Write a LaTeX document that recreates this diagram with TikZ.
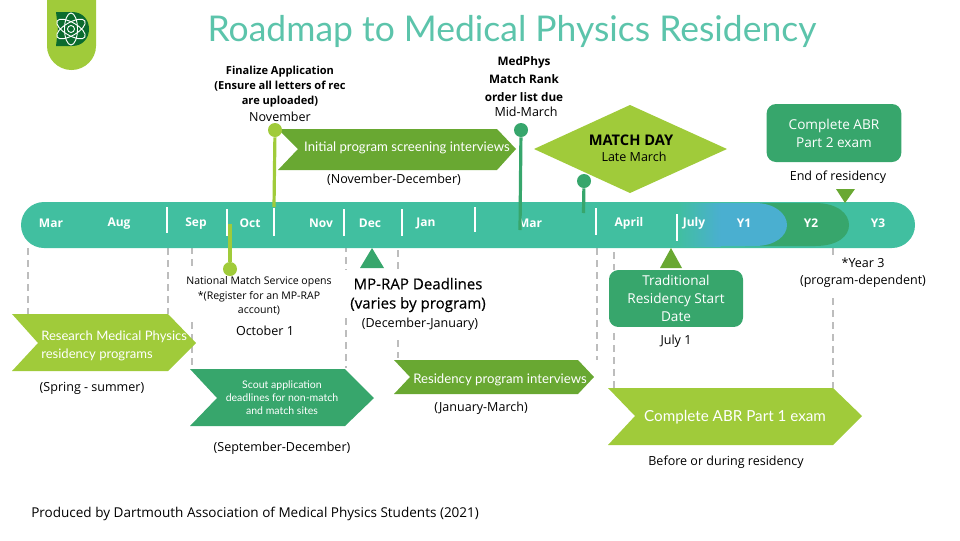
\documentclass[tikz,border=0pt]{standalone}
\usepackage{fontspec}
\setmainfont{Open Sans}
\newfontfamily\lightfont{Lato}
\definecolor{tealbar}{HTML}{41BFA0}
\definecolor{titleteal}{HTML}{5CC4AB}
\definecolor{lime}{HTML}{A0CB3A}
\definecolor{midgreen}{HTML}{37A66C}
\definecolor{olive}{HTML}{69A832}
\definecolor{skyblue}{HTML}{4AAFD0}
\definecolor{darklogo}{HTML}{0B6B2E}
\definecolor{dashgray}{HTML}{BDBDBD}
\tikzset{
 txt/.style={inner sep=0pt,align=center,text=black,font=\fontsize{9.4}{13}\selectfont},
 boldtxt/.style={inner sep=0pt,align=center,text=black,font=\fontsize{8.3}{11.5}\selectfont\bfseries},
 month/.style={inner sep=0pt,text=white,font=\fontsize{9}{11}\selectfont\bfseries},
 lighttxt/.style={inner sep=0pt,text=white,align=center,font=\lightfont\fontsize{9.9}{13}\selectfont},
 boxtxt/.style={inner sep=0pt,text=white,align=center,font=\fontsize{10.2}{13.5}\selectfont},
 tickline/.style={draw=white,line width=2.2pt},
 dashline/.style={draw=dashgray,line width=.8pt,dash pattern=on 5pt off 4pt},
 dotnode/.style={circle,inner sep=0pt,minimum size=10.5pt},
 stemline/.style={line width=2.4pt},
}
\begin{document}
\begin{tikzpicture}[x=.75pt,y=-.75pt]
\useasboundingbox (0,0) rectangle (960,540);
% logo
\fill[lime] (47,0) -- (96,0) -- (96,46) .. controls (96,59) and (85,70) .. (71.5,70) .. controls (58,70) and (47,59) .. (47,46) -- cycle;
\fill[darklogo] (56,12) -- (72,12) .. controls (83,12) and (89,20) .. (89,29) .. controls (89,38) and (83,46) .. (72,46) -- (56,46) -- (58,29) -- cycle;
\foreach \a in {30,90,150}{\draw[white,line width=.7pt,rotate around={\a:(71,29)}] (71,29) ellipse[x radius=16,y radius=6.5];}
\draw[white,line width=.7pt] (71,29) circle[radius=3.5];
% title
\node[inner sep=0pt,text=titleteal,font=\lightfont\fontsize{26.6}{32}\selectfont] (title) at (512,31) {Roadmap to Medical Physics Residency};
% dashed guides
\foreach \x/\a/\b in {28/248/314,168/248/314,192/235/270,192/322/368,346/245/270,346/318/368,398/250/272,398/340/358,597/248/360,614/252/270,614/333/388,833/248/256,833/298/388}{
 \draw[dashline] (\x,\a) -- (\x,\b);}
% bar
\fill[tealbar] (44,202) -- (892,202) .. controls (904.7,202) and (915,212.3) .. (915,225) .. controls (915,237.7) and (904.7,248) .. (892,248) -- (44,248) .. controls (31.3,248) and (21,237.7) .. (21,225) .. controls (21,212.3) and (31.3,202) .. (44,202) -- cycle;
\fill[midgreen] (745,203) -- (815,203) .. controls (838,203) and (849,214) .. (849,225) .. controls (849,236) and (838,246) .. (815,246) -- (745,246) -- cycle;
\fill[skyblue] (720,203) -- (755,203) .. controls (775,203) and (787,214) .. (787,225) .. controls (787,236) and (775,246) .. (755,246) -- (720,246) -- cycle;
\shade[left color=tealbar,right color=skyblue] (678,203) rectangle (720.5,246);
% ticks
\foreach \x/\a/\b in {167/207/233,227/209/236,274/208/236,344/209/236,402/209/236,475/207/232,596/208/235,677/214/241}{
 \draw[tickline] (\x,\a) -- (\x,\b);}
% months
\foreach \x/\t in {51/Mar,119/Aug,196/Sep,250/Oct,321/Nov,370/Dec,426/Jan,530/Mar,629/April,694/July,744/Y1,811/Y2,878/Y3}{
 \node[month] at (\x,223.5) {\t};}
% chevrons
\fill[lime] (12,314) -- (168,314) -- (196,343) -- (168,371) -- (12,371) -- (38,343) -- cycle;
\fill[midgreen] (190,369) -- (345,369) -- (374,398) -- (345,426) -- (190,426) -- (217,398) -- cycle;
\fill[olive] (394,360) -- (578,360) -- (594,377) -- (578,394) -- (394,394) -- (410,377) -- cycle;
\fill[olive] (278,129) -- (497,129) -- (516,149) -- (497,170) -- (278,170) -- (298,149) -- cycle;
\fill[lime] (608,388) -- (833,388) -- (862,416) -- (833,445) -- (608,445) -- (635,416) -- cycle;
% diamond
\fill[lime] (534,149) -- (630,105) -- (727,149) -- (630,193) -- cycle;
% triangles
\fill[midgreen] (372,248) -- (384,268) -- (360,268) -- cycle;
\fill[olive] (671,248) -- (682,268) -- (660,268) -- cycle;
\fill[olive] (845,203) -- (836,189) -- (855,189) -- cycle;
% boxes
\node[fill=midgreen,rounded corners=7pt,minimum width=101pt,minimum height=43.5pt,inner sep=0pt] (abr2) at (834,133) {};
\node[fill=midgreen,rounded corners=7pt,minimum width=100.5pt,minimum height=42.7pt,inner sep=0pt] (trad) at (676,298.5) {};
% stems
\node[dotnode,fill=lime] (d1) at (275,130) {};
\coordinate (d1e) at (274,207);
\draw[lime,stemline] (d1) -- (d1e);
\node[dotnode,fill=lime] (d2) at (230,269) {};
\coordinate (d2e) at (230,224);
\draw[lime,stemline] (d2) -- (d2e);
\node[dotnode,fill=midgreen] (d3) at (521,130) {};
\coordinate (d3e) at (520,230);
\draw[midgreen,stemline] (d3) -- (d3e);
\node[dotnode,fill=midgreen] (d4) at (584,181) {};
\coordinate (d4e) at (583.5,213);
\draw[midgreen,stemline] (d4) -- (d4e);
% labels
\node[boldtxt] (fin) at (280,86.5) {Finalize Application\\(Ensure all letters of rec\\are uploaded)};
\node[txt] at (280,116.5) {November};
\node[lighttxt] at (407,148) {Initial program screening interviews};
\node[txt] at (394,180) {(November-December)};
\node[boldtxt,font=\fontsize{8.8}{13.5}\selectfont\bfseries] at (524,79) {MedPhys\\Match Rank\\order list due};
\node[txt] at (526,112) {Mid-March};
\node[inner sep=0pt,font=\fontsize{11}{13}\selectfont\bfseries] at (631,140) {MATCH DAY};
\node[txt] at (634,157) {Late March};
\node[boxtxt] at (834,133.5) {Complete ABR\\Part 2 exam};
\node[txt] at (838,177) {End of residency};
\node[txt] at (863,272.5) {*Year 3\\(program-dependent)};
\node[txt,font=\fontsize{7.9}{10.7}\selectfont] at (259,296) {National Match Service opens\\*(Register for an MP-RAP\\account)};
\node[txt] at (265,330.5) {October 1};
\node[inner sep=0pt,align=center,font=\fontsize{11.3}{14.4}\selectfont\addfontfeature{FakeBold=0.3}] at (418,295) {MP-RAP Deadlines\\(varies by program)};
\node[txt] at (420,324) {(December-January)};
\node[boxtxt] at (676,298.5) {Traditional\\Residency Start\\Date};
\node[txt] at (676,341) {July 1};
\node[lighttxt,align=left,anchor=west,font=\lightfont\fontsize{9.8}{13.5}\selectfont] at (41,346) {Research Medical Physics\\residency programs};
\node[txt] at (92,388) {(Spring - summer)};
\node[lighttxt,font=\lightfont\fontsize{7.9}{9.8}\selectfont] at (282,398) {Scout application\\deadlines for non-match\\and match sites};
\node[txt] at (282,448) {(September-December)};
\node[lighttxt] at (500,379.5) {Residency program interviews};
\node[txt] at (481,408) {(January-March)};
\node[lighttxt,font=\lightfont\fontsize{11.4}{13}\selectfont] at (735,417.5) {Complete ABR Part 1 exam};
\node[txt] at (726,462) {Before or during residency};
\node[txt,anchor=west,font=\fontsize{10.15}{13}\selectfont] at (31,513.5) {Produced by Dartmouth Association of Medical Physics Students (2021)};
\end{tikzpicture}
\end{document}
